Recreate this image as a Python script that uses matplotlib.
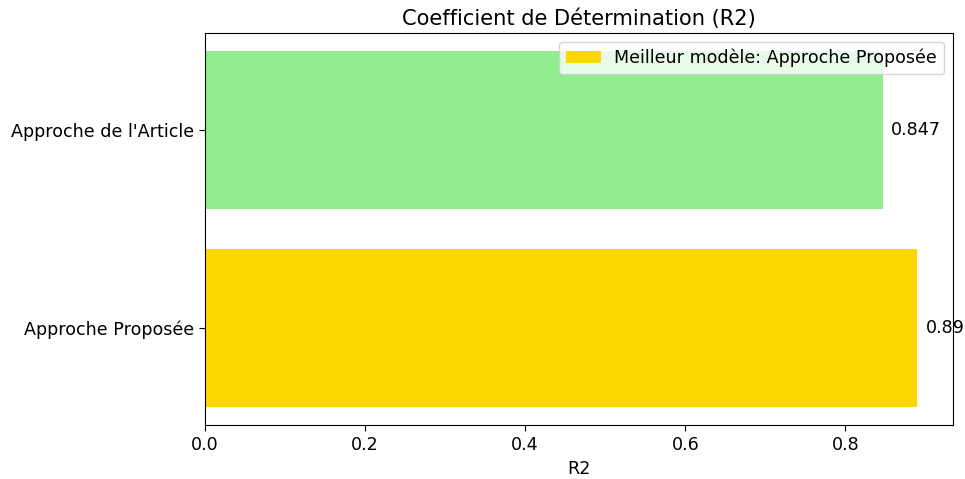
import matplotlib
matplotlib.use("Agg")
from matplotlib import pyplot as plt

models = ["Approche Proposée", "Approche de l'Article"]
r2_scores = [0.89, 0.847]
colors = ["gold", "lightgreen"]
best_label = "Meilleur modèle: Approche Proposée"

s = 1.26  # the reference looks rendered a bit larger than default
plt.rcParams["font.size"] = 10 * s
plt.rcParams["xtick.major.size"] = 3.5 * s
plt.rcParams["ytick.major.size"] = 3.5 * s

fig = plt.figure(figsize=(9.65, 4.79), dpi=100)
ax = fig.add_axes([205 / 965, 1 - 425 / 479, 748 / 965, 392 / 479])

bars = ax.barh(models, r2_scores, color=colors)
bars[0].set_label(best_label)

for b, v in zip(bars, r2_scores):
    ax.text(v + 0.01, b.get_y() + b.get_height() / 2, str(v), va="center")

ax.set_title("Coefficient de Détermination (R2)", fontsize=12 * s)
ax.set_xlabel("R2")
ax.legend(loc="upper right")

fig.savefig("out.png", dpi=100)
